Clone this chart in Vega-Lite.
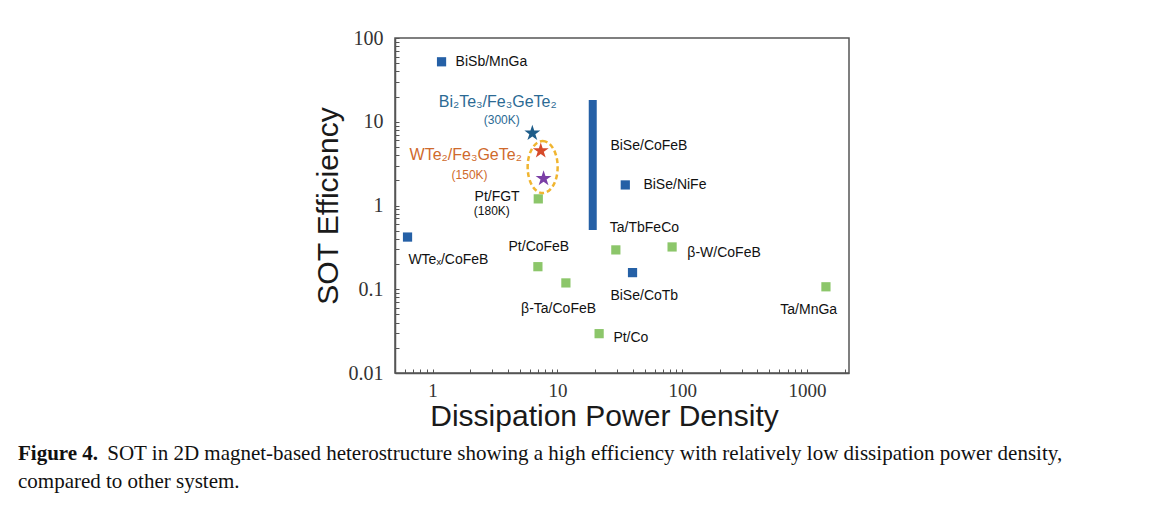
{
  "$schema": "https://vega.github.io/schema/vega-lite/v6.json",
  "width": 454,
  "height": 335,
  "autosize": {"type": "none"},
  "padding": {"left": 395, "top": 38, "right": 319, "bottom": 148},
  "background": "white",
  "config": {
    "view": {"stroke": "#555", "strokeWidth": 1.5},
    "axis": {"grid": false, "domainColor": "#555", "domainWidth": 1.5, "tickColor": "#555", "tickSize": -4, "labelFont": "Liberation Serif", "labelFontSize": 20, "labelColor": "#333", "titleFont": "Liberation Sans", "titleFontSize": 30, "titleFontWeight": "normal", "titleColor": "#1a1a1a", "labelFlush": false, "labelOverlap": false},
    "text": {"font": "Liberation Sans"}
  },
  "title": {
    "text": "Figure 4.",
    "subtitle": ["\u200b\u00a0\u00a0\u00a0\u00a0\u00a0\u00a0\u00a0\u00a0\u00a0\u00a0\u00a0\u00a0\u00a0\u00a0\u00a0\u00a0\u00a0SOT in 2D magnet-based heterostructure showing a high efficiency with relatively low dissipation power density,", "compared to other system."],
    "orient": "bottom",
    "anchor": "start",
    "frame": "group",
    "dx": -377,
    "offset": 12,
    "font": "Liberation Serif",
    "fontSize": 21,
    "fontWeight": "bold",
    "color": "#111",
    "subtitleFont": "Liberation Serif",
    "subtitleFontSize": 21,
    "subtitleColor": "#111",
    "subtitleLineHeight": 28,
    "subtitlePadding": -21
  },
  "resolve": {"scale": {"color": "independent"}},
  "datasets": {
    "points": [
      {"name": "BiSb/MnGa", "x": 1.18, "y": 52, "series": "blue"},
      {"name": "BiSe/NiFe", "x": 35, "y": 1.76, "series": "blue"},
      {"name": "WTex/CoFeB", "x": 0.63, "y": 0.42, "series": "blue"},
      {"name": "BiSe/CoTb", "x": 40, "y": 0.158, "series": "blue"},
      {"name": "Pt/FGT", "x": 7.03, "y": 1.2, "series": "green"},
      {"name": "Pt/CoFeB", "x": 6.98, "y": 0.186, "series": "green"},
      {"name": "beta-Ta/CoFeB", "x": 11.7, "y": 0.119, "series": "green"},
      {"name": "Ta/TbFeCo", "x": 29.4, "y": 0.295, "series": "green"},
      {"name": "beta-W/CoFeB", "x": 83, "y": 0.32, "series": "green"},
      {"name": "Pt/Co", "x": 21.6, "y": 0.0295, "series": "green"},
      {"name": "Ta/MnGa", "x": 1418, "y": 0.107, "series": "green"}
    ],
    "stars": [
      {"name": "Bi2Te3/Fe3GeTe2", "x": 6.3, "y": 7.3, "series": "blue"},
      {"name": "WTe2/Fe3GeTe2", "x": 7.36, "y": 4.5, "series": "red"},
      {"name": "other", "x": 7.75, "y": 2.1, "series": "purple"}
    ],
    "bar": [
      {"name": "BiSe/CoFeB", "x": 19.2, "y": 18.2, "y2": 0.51}
    ],
    "ellipse": [
      {"x": 7.62, "y": 2.88}
    ],
    "labels": [
      {"label": "BiSb/MnGa", "x": 1.53, "y": 52},
      {"label": "BiSe/CoFeB", "x": 26.6, "y": 5.13},
      {"label": "BiSe/NiFe", "x": 48.9, "y": 1.76},
      {"label": "Ta/TbFeCo", "x": 26.3, "y": 0.54},
      {"label": "Pt/CoFeB", "x": 4.06, "y": 0.32},
      {"label": "WTeₓ/CoFeB", "x": 0.64, "y": 0.224},
      {"label": "β-W/CoFeB", "x": 110, "y": 0.27},
      {"label": "BiSe/CoTb", "x": 26.6, "y": 0.083},
      {"label": "β-Ta/CoFeB", "x": 5.12, "y": 0.058},
      {"label": "Pt/Co", "x": 28.1, "y": 0.026},
      {"label": "Ta/MnGa", "x": 611, "y": 0.057},
      {"label": "Pt/FGT", "x": 2.17, "y": 1.26}
    ],
    "bigLabels": [
      {"label": "Bi₂Te₃/Fe₃GeTe₂", "x": 1.12, "y": 17.2, "series": "blue"},
      {"label": "WTe₂/Fe₃GeTe₂", "x": 0.654, "y": 4.0, "series": "orange"}
    ],
    "tempLabels": [
      {"label": "(300K)", "x": 2.57, "y": 10.5, "series": "blue"},
      {"label": "(150K)", "x": 1.42, "y": 2.31, "series": "orange"},
      {"label": "(180K)", "x": 2.14, "y": 0.86, "series": "black"}
    ]
  },
  "encoding": {
    "x": {
      "field": "x", "type": "quantitative",
      "scale": {"type": "log", "domain": [0.5, 2170], "nice": false},
      "axis": {
        "title": "Dissipation Power Density",
        "values": [0.5,0.6,0.7,0.8,0.9,1,2,3,4,5,6,7,8,9,10,20,30,40,50,60,70,80,90,100,200,300,400,500,600,700,800,900,1000,2000],
        "labelExpr": "indexof([1,10,100,1000], datum.value) >= 0 ? datum.value + '' : ''",
        "labelFontSize": 19,
        "labelPadding": 12,
        "titlePadding": 1,
        "titleX": 209
      }
    },
    "y": {
      "field": "y", "type": "quantitative",
      "scale": {"type": "log", "domain": [0.01, 100], "nice": false},
      "axis": {
        "title": "SOT Efficiency",
        "values": [0.01,0.02,0.03,0.04,0.05,0.06,0.07,0.08,0.09,0.1,0.2,0.3,0.4,0.5,0.6,0.7,0.8,0.9,1,2,3,4,5,6,7,8,9,10,20,30,40,50,60,70,80,90,100],
        "labelExpr": "indexof([0.01,0.1,1,10,100], datum.value) >= 0 ? datum.value + '' : ''",
        "labelPadding": 16,
        "titlePadding": 5
      }
    }
  },
  "layer": [
    {
      "data": {"name": "bar"},
      "mark": {"type": "rule", "strokeWidth": 8, "color": "#2560a6", "strokeCap": "butt"},
      "encoding": {"y2": {"field": "y2"}}
    },
    {
      "data": {"name": "points"},
      "mark": {"type": "point", "shape": "square", "filled": true, "opacity": 1, "size": 85},
      "encoding": {
        "color": {"field": "series", "type": "nominal", "scale": {"domain": ["blue", "green"], "range": ["#2560a6", "#8cc66a"]}, "legend": null}
      }
    },
    {
      "data": {"name": "ellipse"},
      "mark": {"type": "point", "shape": "M0,-1 A0.577,1 0 1,1 0,1 A0.577,1 0 1,1 0,-1 Z", "filled": false, "size": 2704, "stroke": "#f0b530", "strokeWidth": 2.5, "strokeDash": [5, 3], "opacity": 1}
    },
    {
      "data": {"name": "stars"},
      "mark": {"type": "point", "shape": "M0,-1L0.225,-0.309L0.951,-0.309L0.363,0.118L0.588,0.809L0,0.382L-0.588,0.809L-0.363,0.118L-0.951,-0.309L-0.225,-0.309Z", "filled": true, "opacity": 1, "size": 280},
      "encoding": {
        "color": {"field": "series", "type": "nominal", "scale": {"domain": ["blue", "red", "purple"], "range": ["#1e5d8a", "#d64a2a", "#7b3fa6"]}, "legend": null}
      }
    },
    {
      "data": {"name": "labels"},
      "mark": {"type": "text", "align": "left", "baseline": "middle", "fontSize": 14, "color": "#111"},
      "encoding": {"text": {"field": "label"}}
    },
    {
      "data": {"name": "bigLabels"},
      "mark": {"type": "text", "align": "left", "baseline": "middle", "fontSize": 16},
      "encoding": {
        "text": {"field": "label"},
        "color": {"field": "series", "type": "nominal", "scale": {"domain": ["blue", "orange", "black"], "range": ["#2b6a94", "#cf6a2c", "#111111"]}, "legend": null}
      }
    },
    {
      "data": {"name": "tempLabels"},
      "mark": {"type": "text", "align": "left", "baseline": "middle", "fontSize": 12},
      "encoding": {
        "text": {"field": "label"},
        "color": {"field": "series", "type": "nominal", "scale": {"domain": ["blue", "orange", "black"], "range": ["#2b6a94", "#cf6a2c", "#111111"]}, "legend": null}
      }
    }
  ]
}
